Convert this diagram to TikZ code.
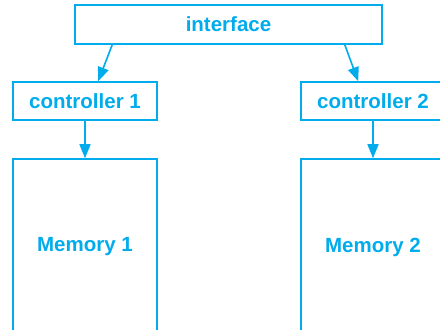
\documentclass[tikz,border=0pt]{standalone}
\usepackage{fontspec}
\setmainfont{Liberation Sans}
\usetikzlibrary{arrows.meta,calc}
\definecolor{cy}{RGB}{0,172,236}
\begin{document}
\begin{tikzpicture}[x=1pt,y=-1pt,
  box/.style={draw=cy,line width=1.6pt,inner sep=0pt,text=cy,
    font=\fontsize{20.5}{24}\selectfont\bfseries},
  arr/.style={draw=cy,line width=1.6pt,-{Triangle[length=14pt,width=11pt]}}]
\clip (0,0) rectangle (440,330);
\useasboundingbox (0,0) rectangle (440,330);
\node[box,minimum width=307pt,minimum height=39pt] (iface) at (228.5,24.5) {interface};
\node[box,minimum width=144pt,minimum height=38pt] (c1) at (85,101) {controller 1};
\node[box,minimum width=144pt,minimum height=38pt] (c2) at (373,101) {controller 2};
\node[box,minimum width=144pt,minimum height=176pt] (m1) at (85,247) {Memory 1};
\node[box,minimum width=144pt,minimum height=176pt] (m2) at (373,247) {Memory 2};
\draw[arr] ($(iface.south west)+(38,0)$) -- ($(c1.north west)+(86,0)$);
\draw[arr] ($(iface.south east)+(-38,0)$) -- ($(c2.north west)+(58,0)$);
\draw[arr] (c1.south) -- (m1.north);
\draw[arr] (c2.south) -- (m2.north);
\end{tikzpicture}
\end{document}
